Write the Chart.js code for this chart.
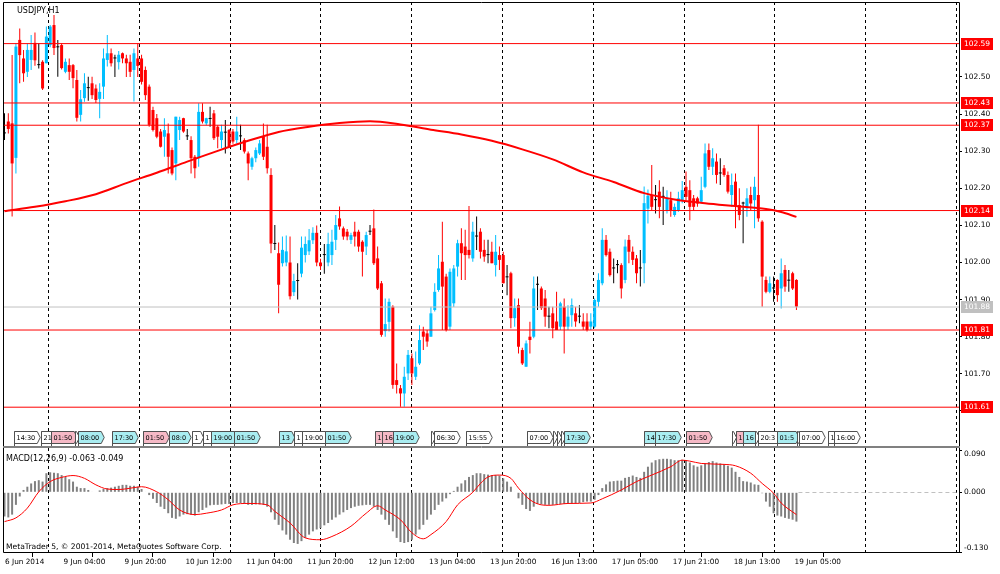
<!DOCTYPE html>
<html><head><meta charset="utf-8">
<script src="https://cdn.jsdelivr.net/npm/chart.js@4.4.1/dist/chart.umd.min.js"></script>
<style>
html,body{margin:0;padding:0;background:#fff;width:1000px;height:574px;overflow:hidden}
#wrapA{position:absolute;left:0;top:0;width:1000px;height:447px}
#wrapB{position:absolute;left:0;top:447px;width:1000px;height:127px}
canvas{display:block}
</style></head><body>
<div id="wrapA"><canvas id="main" width="1000" height="447"></canvas></div>
<div id="wrapB"><canvas id="macd" width="1000" height="127"></canvas></div>
<script>
// ---------------- DATA ----------------
const symbolTitle = 'USDJPY,H1';
const macdTitle = 'MACD(12,26,9) -0.063 -0.049';
const copyrightText = 'MetaTrader 5, \u00A9 2001-2014, MetaQuotes Software Corp.';

const opens = [
102.348,102.380,102.375,102.282,102.600,102.550,102.514,102.546,102.592,102.532,
102.541,102.537,102.586,102.640,102.580,102.586,102.514,102.532,102.532,102.492,
102.398,102.443,102.470,102.483,102.469,102.441,102.474,102.546,102.564,102.550,
102.540,102.564,102.550,102.541,102.519,102.550,102.550,102.519,102.474,102.411,
102.389,102.353,102.339,102.348,102.303,102.267,102.357,102.389,102.340,102.330,
102.285,102.281,102.406,102.375,102.387,102.402,102.366,102.330,102.350,102.357,
102.353,102.330,102.340,102.330,102.294,102.258,102.281,102.294,102.339,102.312,
102.236,102.050,102.025,101.998,102.000,102.000,101.920,101.950,101.970,102.020,
102.030,102.060,102.080,102.000,102.020,102.000,102.020,102.061,102.119,102.092,
102.083,102.061,102.083,102.083,102.056,102.043,102.083,102.092,102.011,101.944,
101.815,101.840,101.881,101.683,101.661,101.647,101.701,101.742,101.692,101.728,
101.814,101.809,101.800,101.872,101.926,102.002,101.962,101.827,101.890,101.989,
102.052,102.043,102.034,102.011,102.070,102.083,102.034,102.020,102.029,101.993,
102.020,102.020,101.960,101.971,101.850,101.885,101.764,101.719,101.800,101.800,
101.940,101.930,101.903,101.854,101.863,101.841,101.827,101.881,101.827,101.858,
101.863,101.854,101.841,101.841,101.827,101.827,101.894,101.944,102.061,102.029,
101.984,101.993,101.993,101.953,102.061,102.029,102.011,101.984,101.998,102.145,
102.182,102.168,102.191,102.177,102.141,102.168,102.128,102.141,102.168,102.204,
102.195,102.173,102.173,102.164,102.204,102.303,102.258,102.272,102.240,102.254,
102.236,102.182,102.218,102.155,102.159,102.146,102.182,102.168,102.182,102.110,
101.953,101.921,101.930,101.953,101.930,101.980,101.951,101.971,101.953];
const highs = [
102.402,102.402,102.559,102.590,102.631,102.573,102.590,102.613,102.620,102.591,
102.545,102.636,102.640,102.667,102.600,102.590,102.550,102.550,102.535,102.519,
102.465,102.510,102.501,102.501,102.480,102.483,102.577,102.613,102.577,102.560,
102.570,102.566,102.560,102.560,102.577,102.591,102.560,102.528,102.480,102.420,
102.400,102.360,102.389,102.375,102.310,102.393,102.393,102.390,102.360,102.340,
102.290,102.429,102.429,102.390,102.420,102.411,102.370,102.371,102.384,102.360,
102.360,102.393,102.371,102.335,102.299,102.285,102.310,102.330,102.375,102.371,
102.254,102.101,102.054,102.070,102.073,102.070,101.970,101.998,102.070,102.070,
102.090,102.095,102.100,102.010,102.050,102.080,102.088,102.128,102.151,102.097,
102.090,102.080,102.110,102.088,102.060,102.083,102.101,102.143,102.043,101.950,
101.903,101.903,101.885,101.728,101.670,101.719,101.764,101.755,101.760,101.831,
101.827,101.818,101.881,101.944,102.020,102.110,101.970,101.984,101.993,102.061,
102.092,102.088,102.152,102.110,102.124,102.092,102.061,102.061,102.056,102.074,
102.043,102.029,101.993,101.975,101.903,101.903,101.770,101.790,101.840,101.962,
101.962,101.935,101.926,101.881,101.881,101.921,101.894,101.903,101.885,101.903,
101.881,101.885,101.863,101.863,101.863,101.903,101.971,102.092,102.074,102.038,
102.011,102.007,101.998,102.062,102.074,102.043,102.020,102.034,102.205,102.197,
102.263,102.209,102.222,102.204,102.195,102.191,102.159,102.191,102.220,102.245,
102.222,102.182,102.177,102.231,102.321,102.321,102.308,102.294,102.281,102.263,
102.245,102.240,102.240,102.200,102.164,102.200,102.204,102.231,102.371,102.114,
101.962,101.962,101.962,101.955,102.011,101.993,101.980,101.975,101.955];
const lows = [
102.330,102.348,102.124,102.240,102.483,102.487,102.500,102.519,102.530,102.523,
102.465,102.537,102.580,102.559,102.501,102.520,102.510,102.492,102.470,102.380,
102.380,102.433,102.436,102.441,102.430,102.389,102.441,102.528,102.528,102.500,
102.520,102.537,102.500,102.500,102.434,102.500,102.480,102.438,102.366,102.353,
102.335,102.310,102.285,102.240,102.235,102.222,102.330,102.350,102.330,102.240,
102.227,102.258,102.375,102.370,102.366,102.330,102.308,102.308,102.294,102.310,
102.320,102.321,102.303,102.294,102.222,102.250,102.270,102.290,102.276,102.240,
102.025,102.034,101.863,101.989,101.990,101.900,101.910,101.900,101.960,102.000,
102.020,102.050,101.990,101.980,101.970,101.990,101.993,102.034,102.088,102.061,
102.060,102.050,102.043,102.029,101.962,102.020,102.074,101.993,101.926,101.800,
101.800,101.814,101.660,101.647,101.611,101.611,101.683,101.670,101.683,101.724,
101.764,101.773,101.800,101.868,101.921,101.818,101.814,101.818,101.880,101.962,
101.953,101.953,102.011,102.002,102.034,102.011,102.002,101.998,101.998,101.962,
101.980,101.944,101.912,101.823,101.827,101.755,101.724,101.719,101.755,101.796,
101.872,101.872,101.827,101.823,101.796,101.818,101.818,101.755,101.818,101.827,
101.827,101.836,101.818,101.814,101.818,101.823,101.881,101.939,102.016,101.962,
101.944,101.971,101.903,101.944,101.998,101.993,101.944,101.935,101.944,102.105,
102.141,102.132,102.119,102.101,102.132,102.123,102.123,102.137,102.160,102.168,
102.114,102.141,102.150,102.160,102.200,102.249,102.236,102.213,102.209,102.231,
102.186,102.150,102.092,102.114,102.052,102.123,102.141,102.092,102.110,101.881,
101.917,101.917,101.894,101.894,101.876,101.921,101.921,101.926,101.872];
const closes = [
102.348,102.360,102.267,102.582,102.559,102.510,102.573,102.573,102.545,102.532,
102.469,102.609,102.636,102.578,102.580,102.524,102.541,102.514,102.497,102.390,
102.440,102.483,102.470,102.451,102.438,102.460,102.550,102.564,102.537,102.550,
102.560,102.550,102.537,102.514,102.564,102.530,102.487,102.451,102.371,102.357,
102.339,102.312,102.357,102.285,102.240,102.393,102.384,102.353,102.340,102.281,
102.254,102.406,102.380,102.389,102.387,102.335,102.339,102.353,102.350,102.312,
102.326,102.353,102.340,102.299,102.267,102.281,102.303,102.321,102.285,102.254,
102.051,102.050,101.940,102.034,102.030,101.909,101.950,101.950,102.040,102.050,
102.060,102.080,102.000,101.990,102.020,102.050,102.056,102.101,102.097,102.070,
102.070,102.074,102.070,102.043,102.029,102.074,102.083,101.998,101.930,101.805,
101.834,101.894,101.670,101.670,101.647,101.692,101.751,101.701,101.719,101.791,
101.800,101.787,101.863,101.921,101.984,101.935,101.818,101.975,101.984,102.052,
102.025,102.020,102.020,102.083,102.070,102.029,102.016,102.020,101.998,102.029,
102.007,101.944,101.960,101.850,101.877,101.773,101.728,101.782,101.791,101.930,
101.940,101.877,101.854,101.854,101.823,101.818,101.890,101.827,101.854,101.885,
101.841,101.854,101.827,101.818,101.841,101.899,101.953,102.061,102.020,101.966,
101.984,101.993,101.930,102.043,102.029,102.007,101.971,101.984,102.160,102.180,
102.150,102.168,102.150,102.177,102.173,102.141,102.150,102.173,102.195,102.177,
102.150,102.150,102.159,102.195,102.294,102.258,102.281,102.236,102.240,102.236,
102.191,102.209,102.150,102.128,102.159,102.173,102.159,102.204,102.119,101.962,
101.921,101.944,101.930,101.912,101.971,101.935,101.951,101.930,101.881];

// moving average (read at sampled bars)
const maBars = [0,8,16,24,32,40,48,56,64,72,80,88,96,104,112,120,128,136,144,152,160,168,176,184,192,200,204,208];
const maValues = [102.138,102.150,102.165,102.184,102.214,102.242,102.272,102.301,102.328,102.352,102.366,102.376,102.381,102.372,102.358,102.345,102.328,102.305,102.278,102.243,102.217,102.187,102.170,102.160,102.152,102.144,102.136,102.123];

// MACD histogram, one value per bar
const macdHist = [
-0.052,-0.054,-0.048,-0.027,-0.009,0.005,0.012,0.019,0.024,0.026,
0.023,0.041,0.043,0.042,0.041,0.037,0.033,0.028,0.023,0.012,
0.009,0.009,0.005,0.001,0.000,0.004,0.007,0.009,0.010,0.012,
0.014,0.016,0.016,0.014,0.014,0.012,0.007,0.001,-0.006,-0.014,
-0.023,-0.031,-0.036,-0.045,-0.055,-0.057,-0.052,-0.048,-0.047,-0.048,
-0.050,-0.043,-0.038,-0.033,-0.028,-0.027,-0.027,-0.026,-0.025,-0.025,
-0.023,-0.023,-0.023,-0.025,-0.027,-0.027,-0.026,-0.026,-0.027,-0.031,
-0.043,-0.059,-0.070,-0.082,-0.091,-0.102,-0.109,-0.111,-0.105,-0.098,
-0.091,-0.084,-0.080,-0.077,-0.071,-0.066,-0.059,-0.054,-0.048,-0.043,
-0.038,-0.034,-0.031,-0.029,-0.028,-0.027,-0.027,-0.031,-0.038,-0.048,
-0.059,-0.070,-0.084,-0.098,-0.107,-0.109,-0.107,-0.102,-0.091,-0.080,
-0.070,-0.059,-0.048,-0.038,-0.027,-0.020,-0.013,-0.004,0.003,0.012,
0.019,0.026,0.033,0.037,0.041,0.041,0.039,0.038,0.037,0.037,
0.036,0.030,0.023,0.012,0.001,-0.013,-0.027,-0.036,-0.040,-0.031,
-0.025,-0.026,-0.027,-0.027,-0.027,-0.026,-0.025,-0.025,-0.024,-0.024,
-0.024,-0.023,-0.021,-0.020,-0.020,-0.016,-0.006,0.009,0.017,0.023,
0.024,0.025,0.025,0.031,0.033,0.036,0.033,0.031,0.044,0.055,
0.064,0.069,0.071,0.072,0.072,0.071,0.069,0.069,0.070,0.069,
0.064,0.058,0.055,0.058,0.062,0.065,0.067,0.064,0.062,0.060,
0.057,0.053,0.044,0.033,0.024,0.023,0.021,0.017,0.016,-0.002,
-0.020,-0.031,-0.045,-0.050,-0.052,-0.055,-0.057,-0.059,-0.063];

// MACD signal line (read at sampled bars)
const signalBars = [0,3,6,9,12,15,18,21,24,27,30,34,36,40,43,46,50,53,57,60,64,69,71,75,79,83,86,91,95,98,100,104,107,110,112,116,119,123,125,127,130,133,135,138,141,143,148,154,157,162,166,170,175,178,180,183,189,192,196,199,202,204,208];
const signalValues = [-0.063,-0.055,-0.034,0.001,0.023,0.032,0.036,0.030,0.016,0.007,0.006,0.010,0.012,0.001,-0.016,-0.038,-0.048,-0.045,-0.038,-0.027,-0.024,-0.027,-0.041,-0.066,-0.098,-0.102,-0.095,-0.073,-0.045,-0.029,-0.038,-0.059,-0.087,-0.100,-0.091,-0.063,-0.027,0.000,0.019,0.033,0.037,0.030,0.009,-0.016,-0.027,-0.028,-0.024,-0.023,-0.014,0.005,0.023,0.037,0.055,0.069,0.067,0.062,0.060,0.057,0.041,0.019,-0.002,-0.023,-0.048];

// axis tick labels
const priceTicks = [101.6,101.7,101.8,101.9,102.0,102.1,102.2,102.3,102.4,102.5];
const macdTicks = [0.09, 0.0, -0.13];
const dateBars = [-0.39,15,31,47,63,79,95,111,127,143,159,175,191,207];
const dateLabels = ['6 Jun 2014','9 Jun 04:00','9 Jun 20:00','10 Jun 12:00','11 Jun 04:00','11 Jun 20:00','12 Jun 12:00','13 Jun 04:00','13 Jun 20:00','16 Jun 13:00','17 Jun 05:00','17 Jun 21:00','18 Jun 13:00','19 Jun 05:00'];

// horizontal price levels (as drawn) with their axis labels, and current bid
const levelPrices = [102.59, 102.43, 102.37, 102.14, 101.818, 101.61];
const levelLabels = ['102.59', '102.43', '102.37', '102.14', '101.81', '101.61'];
const bidPrice = 101.88;
const bidLabel = '101.88';

// calendar events (bar, text, kind)
const eventBars = [2.5,9.6,12.2,18.5,19.3,28.2,36.4,43.2,49.3,52.1,54.2,60.3,72.1,76.0,78.1,84.2,97.3,99.2,102.0,112.0,112.8,121.2,137.2,144.1,145.1,146.2,147.0,168.0,170.9,179.0,191.1,192.1,194.0,197.1,197.9,202.9,208.2,208.7,216.3,217.9];
const eventTexts = ['14:30','21','01:50','','08:00','17:30','01:50','08:0','1','1','19:00','01:50','13','1','19:00','01:50','1','16','19:00','','06:30','15:55','07:00','','','','17:30','14','17:30','01:50','','1','16','','20:3','01:5','','07:00','1','16:00'];
const eventKinds = ['w','w','p','w','c','c','p','c','w','w','c','c','c','w','w','c','p','p','c','w','w','w','w','w','w','w','c','c','c','p','w','p','c','w','w','c','w','w','w','w'];

// ---------------- STYLE / LAYOUT ----------------
const FONT = 'DejaVu Sans';
const BULL = '#00BFFF', BEAR = '#FF0000', DOJI = '#000000';
const X_MIN = -0.394, X_MAX = 250.7;
const GRID_START = 11.43, GRID_STEP = 23.85;
const EVENT_FILL = {w:'#FFFFFF', p:'#F6B9C6', c:'#A9EDF1'};

const barIdx = opens.map((_, i) => i);
const candleColors = barIdx.map(i => closes[i] > opens[i] ? BULL : (closes[i] < opens[i] ? BEAR : DOJI));

function drawVGrid(chart){
  const {ctx, chartArea:a, scales:{x}} = chart;
  ctx.save();
  ctx.strokeStyle = '#000'; ctx.lineWidth = 1; ctx.setLineDash([3,3]);
  for (let v = GRID_START; v <= x.max; v += GRID_STEP){
    const px = Math.round(x.getPixelForValue(v)) + 0.5;
    ctx.beginPath(); ctx.moveTo(px, a.top); ctx.lineTo(px, a.bottom); ctx.stroke();
  }
  ctx.restore();
}
function noPad(s){ s.paddingTop = 0; s.paddingBottom = 0; }

const mainPlugin = {
  id: 'mt5main',
  beforeDatasetsDraw(chart){ drawVGrid(chart); },
  afterDatasetsDraw(chart){
    const {ctx, chartArea:a, scales:{x, y}} = chart;
    ctx.save();
    ctx.strokeStyle = '#C0C0C0'; ctx.lineWidth = 1;
    let py = y.getPixelForValue(bidPrice);
    ctx.beginPath(); ctx.moveTo(a.left, py); ctx.lineTo(a.right, py); ctx.stroke();
    ctx.strokeStyle = '#FF0000';
    levelPrices.forEach(p => {
      const yy = y.getPixelForValue(p);
      ctx.beginPath(); ctx.moveTo(a.left, yy); ctx.lineTo(a.right, yy); ctx.stroke();
    });
    ctx.font = '6.5px "' + FONT + '"';
    ctx.textBaseline = 'middle';
    const top = 431.5, bot = 443.5;
    eventBars.forEach((b, k) => {
      const ex = Math.round(x.getPixelForValue(b)) + 0.5;
      const tw = ctx.measureText(eventTexts[k]).width;
      const w = tw > 0 ? tw + 4 : 1;
      ctx.beginPath();
      ctx.moveTo(ex, top); ctx.lineTo(ex + w, top); ctx.lineTo(ex + w + 3, (top + bot) / 2);
      ctx.lineTo(ex + w, bot); ctx.lineTo(ex, bot); ctx.closePath();
      ctx.fillStyle = EVENT_FILL[eventKinds[k]]; ctx.fill();
      ctx.strokeStyle = '#505050'; ctx.stroke();
      ctx.beginPath(); ctx.moveTo(ex, top); ctx.lineTo(ex, a.bottom); ctx.stroke();
      ctx.fillStyle = '#000'; ctx.fillText(eventTexts[k], ex + 2, (top + bot) / 2 + 0.5);
    });
    ctx.restore();
  },
  afterDraw(chart){
    const {ctx, chartArea:a, scales:{y}} = chart;
    ctx.save();
    ctx.strokeStyle = '#000'; ctx.lineWidth = 1;
    ctx.beginPath();
    ctx.moveTo(a.left + 0.5, a.bottom); ctx.lineTo(a.left + 0.5, a.top + 0.5);
    ctx.lineTo(a.right + 0.5, a.top + 0.5); ctx.lineTo(a.right + 0.5, a.bottom);
    ctx.stroke();
    ctx.strokeStyle = '#808080';
    ctx.beginPath(); ctx.moveTo(a.left, a.bottom + 0.5); ctx.lineTo(a.right + 1, a.bottom + 0.5); ctx.stroke();
    ctx.fillStyle = '#000'; ctx.font = '8px "' + FONT + '"'; ctx.textBaseline = 'middle'; ctx.textAlign = 'left';
    ctx.fillText(symbolTitle, 17, 10.5);
    ctx.font = '7.5px "' + FONT + '"'; ctx.textAlign = 'center';
    const box = (p, txt, fill) => {
      const yy = y.getPixelForValue(p);
      ctx.fillStyle = fill; ctx.fillRect(a.right + 2, Math.round(yy) - 6, 32, 12);
      ctx.fillStyle = '#FFFFFF'; ctx.fillText(txt, a.right + 18, Math.round(yy) + 0.5);
    };
    box(bidPrice, bidLabel, '#C0C0C0');
    levelPrices.forEach((p, k) => box(p, levelLabels[k], '#FF0000'));
    ctx.restore();
  }
};

new Chart(document.getElementById('main'), {
  type: 'bar',
  data: { datasets: [
    { type: 'line', data: maBars.map((b, k) => ({x: b, y: maValues[k]})), borderColor: '#FF0000', borderWidth: 2,
      pointRadius: 0, cubicInterpolationMode: 'monotone', order: 0 },
    { data: barIdx.map(i => ({x: i, y: [opens[i], closes[i]]})), backgroundColor: candleColors,
      barThickness: 3, minBarLength: 1, grouped: false, inflateAmount: 0, order: 1 },
    { data: barIdx.map(i => ({x: i, y: [lows[i], highs[i]]})), backgroundColor: candleColors,
      barThickness: 1, grouped: false, inflateAmount: 0, order: 2 }
  ]},
  options: {
    responsive: false, animation: false, events: [],
    layout: { padding: { left: 3, top: 2, right: 0, bottom: 1 } },
    plugins: { legend: { display: false }, tooltip: { enabled: false } },
    scales: {
      x: { type: 'linear', min: X_MIN, max: X_MAX, offset: false, display: false },
      y: { position: 'right', min: 102.5 - 369/371, max: 102.5 + 75/371,
           afterFit(s){ s.width = 41; noPad(s); },
           afterBuildTicks(s){ s.ticks = priceTicks.map(v => ({value: v})); },
           ticks: { callback: v => Number(v).toFixed(2), autoSkip: false, color: '#000',
                    font: { family: FONT, size: 7.5 }, padding: 2 },
           grid: { drawOnChartArea: false, drawTicks: true, tickLength: 3, color: '#000' },
           border: { display: false } }
    }
  },
  plugins: [mainPlugin]
});

const macdPlugin = {
  id: 'mt5macd',
  beforeDatasetsDraw(chart){
    drawVGrid(chart);
    const {ctx, chartArea:a, scales:{x, y}} = chart;
    ctx.save();
    ctx.strokeStyle = '#C0C0C0'; ctx.lineWidth = 1; ctx.setLineDash([4,3]);
    const yy = Math.round(y.getPixelForValue(0)) + 0.5;
    ctx.beginPath(); ctx.moveTo(x.getPixelForValue(macdHist.length - 1) + 2, yy); ctx.lineTo(a.right, yy); ctx.stroke();
    ctx.restore();
  },
  afterDraw(chart){
    const {ctx, chartArea:a, scales:{y}} = chart;
    ctx.save();
    ctx.strokeStyle = '#808080'; ctx.lineWidth = 1;
    ctx.beginPath(); ctx.moveTo(a.left, 0.5); ctx.lineTo(a.right + 1, 0.5); ctx.stroke();
    ctx.strokeStyle = '#000';
    ctx.beginPath();
    ctx.moveTo(a.left + 0.5, a.top); ctx.lineTo(a.left + 0.5, a.bottom - 0.5);
    ctx.lineTo(a.right + 0.5, a.bottom - 0.5); ctx.lineTo(a.right + 0.5, a.top);
    ctx.stroke();
    ctx.fillStyle = '#000'; ctx.textBaseline = 'middle'; ctx.textAlign = 'left';
    ctx.font = '8px "' + FONT + '"';
    ctx.fillText(macdTitle, 6, 11.5);
    ctx.font = '7.6px "' + FONT + '"';
    ctx.fillText(copyrightText, 6, 100);
    ctx.font = '7.5px "' + FONT + '"';
    macdTicks.forEach(v => {
      const yy = Math.min(Math.max(y.getPixelForValue(v), a.top + 6), a.bottom - 5);
      ctx.fillText(v.toFixed(3), a.right + 5, yy);
    });
    ctx.restore();
  }
};

new Chart(document.getElementById('macd'), {
  type: 'bar',
  data: { datasets: [
    { type: 'line', data: signalBars.map((b, k) => ({x: b, y: signalValues[k]})), borderColor: '#FF0000', borderWidth: 1,
      pointRadius: 0, cubicInterpolationMode: 'monotone', order: 0 },
    { data: barIdx.map(i => ({x: i, y: macdHist[i]})), backgroundColor: '#808080',
      barThickness: 2, grouped: false, inflateAmount: 0, order: 1 }
  ]},
  options: {
    responsive: false, animation: false, events: [],
    layout: { padding: { left: 3, top: 1, right: 0, bottom: 0 } },
    plugins: { legend: { display: false }, tooltip: { enabled: false } },
    scales: {
      x: { type: 'linear', min: X_MIN, max: X_MAX, offset: false, position: 'bottom',
           afterFit(s){ s.height = 21; s.paddingLeft = 0; s.paddingRight = 0; },
           afterBuildTicks(s){ s.ticks = dateBars.map(v => ({value: v})); },
           ticks: { callback: (v, k) => dateLabels[k], align: 'start', maxRotation: 0, minRotation: 0,
                    autoSkip: false, color: '#000', font: { family: FONT, size: 7.3 }, padding: 1, labelOffset: 2 },
           grid: { drawOnChartArea: false, drawTicks: true, tickLength: 4, color: '#000' },
           border: { display: false } },
      y: { position: 'right', min: -0.1305, max: 0.0952,
           afterFit(s){ s.width = 41; noPad(s); },
           afterBuildTicks(s){ s.ticks = macdTicks.map(v => ({value: v})); },
           ticks: { display: false },
           grid: { drawOnChartArea: false, drawTicks: true, tickLength: 3, color: '#000' },
           border: { display: false } }
    }
  },
  plugins: [macdPlugin]
});
</script>
</body></html>
